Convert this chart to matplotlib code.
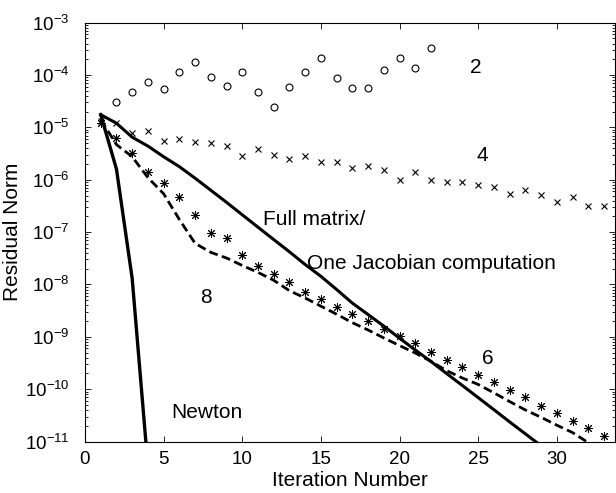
import numpy as np
import matplotlib
matplotlib.use("Agg")
import matplotlib.pyplot as plt
from matplotlib.ticker import LogLocator, FixedLocator

plt.rcParams['font.family'] = ['Liberation Sans', 'DejaVu Sans']
plt.rcParams['mathtext.fontset'] = 'custom'
plt.rcParams['mathtext.rm'] = 'Liberation Sans'
plt.rcParams['mathtext.it'] = 'Liberation Sans:italic'
plt.rcParams['mathtext.bf'] = 'Liberation Sans:bold'

# ---- data ----
iter_m2 = list(range(2, 23))
res_m2 = [3.0e-5, 4.7e-5, 7.4e-5, 5.4e-5, 1.12e-4, 1.78e-4, 9.1e-5, 6.2e-5,
          1.12e-4, 4.8e-5, 2.4e-5, 6.0e-5, 1.12e-4, 2.14e-4, 8.7e-5, 5.6e-5,
          5.75e-5, 1.26e-4, 2.09e-4, 1.35e-4, 3.24e-4]

iter_m4 = list(range(1, 34))
res_m4 = [1.32e-5, 1.20e-5, 7.8e-6, 8.7e-6, 5.6e-6, 5.9e-6, 5.25e-6, 5.0e-6,
          4.4e-6, 2.9e-6, 3.9e-6, 3.0e-6, 2.5e-6, 2.9e-6, 2.15e-6, 2.15e-6,
          1.66e-6, 1.81e-6, 1.52e-6, 9.7e-7, 1.39e-6, 1.01e-6, 9.2e-7, 9.2e-7,
          8.0e-7, 7.2e-7, 5.3e-7, 6.5e-7, 5.15e-7, 3.7e-7, 4.6e-7, 3.2e-7, 3.2e-7]

iter_m6 = list(range(1, 34))
res_m6 = [1.24e-5, 6.3e-6, 3.25e-6, 1.41e-6, 8.7e-7, 4.6e-7, 2.08e-7, 9.75e-8,
          7.7e-8, 3.6e-8, 2.25e-8, 1.56e-8, 1.09e-8, 7.2e-9, 5.25e-9, 3.7e-9,
          2.7e-9, 2.0e-9, 1.4e-9, 1.04e-9, 7.5e-10, 5.2e-10, 3.65e-10, 2.7e-10,
          1.89e-10, 1.39e-10, 9.8e-11, 7.0e-11, 4.85e-11, 3.5e-11, 2.5e-11,
          1.8e-11, 1.3e-11]

iter_m8 = list(range(1, 33))
res_m8 = [1.41e-5, 4.7e-6, 2.75e-6, 1.1e-6, 5.4e-7, 1.74e-7, 6.1e-8, 4.1e-8,
          3.2e-8, 2.3e-8, 1.7e-8, 1.2e-8, 7.6e-9, 5.5e-9, 3.85e-9, 2.7e-9,
          1.86e-9, 1.35e-9, 9.5e-10, 6.8e-10, 4.9e-10, 3.4e-10, 2.25e-10,
          1.63e-10, 1.23e-10, 8.5e-11, 5.8e-11, 4.0e-11, 2.9e-11, 2.05e-11,
          1.48e-11, 9.5e-12]

iter_full = list(range(1, 30))
res_full = [1.75e-5, 1.2e-5, 6.5e-6, 4.4e-6, 2.75e-6, 1.78e-6, 1.07e-6, 6.3e-7,
            3.7e-7, 2.14e-7, 1.24e-7, 7.2e-8, 4.2e-8, 2.4e-8, 1.43e-8, 8.0e-9,
            4.4e-9, 2.66e-9, 1.6e-9, 9.4e-10, 5.6e-10, 3.37e-10, 1.98e-10,
            1.17e-10, 6.9e-11, 4.05e-11, 2.37e-11, 1.4e-11, 8.3e-12]

iter_newton = [1, 2, 3, 4]
res_newton = [1.75e-5, 1.6e-6, 1.3e-8, 3.4e-12]

x_ticks = [0, 5, 10, 15, 20, 25, 30]
y_ticks = [1e-11, 1e-10, 1e-9, 1e-8, 1e-7, 1e-6, 1e-5, 1e-4, 1e-3]

# ---- figure ----
fig = plt.figure(figsize=(6.16, 4.93), dpi=100)
ax = fig.add_axes([85/616, 1-441.5/493, 530/616, (441.5-22.7)/493])

ax.plot(iter_newton, res_newton, color='black', lw=2.4)
ax.plot(iter_full, res_full, color='black', lw=2.2)
ax.plot(iter_m8, res_m8, color='black', lw=2.0, dashes=(3.2, 1.6))
ax.plot(iter_m6, res_m6, linestyle='none', marker=(8, 2, 0), ms=6.5,
        mec='black', mew=0.7)
ax.plot(iter_m4, res_m4, linestyle='none', marker='x', ms=4.5,
        mec='black', mew=0.8)
ax.plot(iter_m2, res_m2, linestyle='none', marker='o', ms=5, mfc='none',
        mec='black', mew=0.8)

ax.set_yscale('log')
ax.set_xlim(0, 33.7)
ax.set_ylim(1e-11, 1e-3)
ax.xaxis.set_major_locator(FixedLocator(x_ticks))
ax.yaxis.set_major_locator(FixedLocator(y_ticks))
ax.yaxis.set_minor_locator(LogLocator(base=10, subs=np.arange(2, 10), numticks=20))
ax.tick_params(axis='both', which='both', direction='in', top=True, right=True,
               colors='black', width=0.6)
ax.tick_params(axis='both', which='major', length=4, labelsize=13.5)
ax.tick_params(axis='y', which='minor', length=2.2)
ax.tick_params(axis='x', which='major', pad=7)
ax.tick_params(axis='y', which='major', pad=11)
for s in ax.spines.values():
    s.set_linewidth(0.8)

ax.set_xlabel('Iteration Number', fontsize=15)
ax.set_ylabel('Residual Norm', fontsize=15)
ax.xaxis.set_label_coords(0.5, -0.070)
ax.yaxis.set_label_coords(-0.119, 0.5)

fs = 15
ax.text(24.86, 10**-3.964, '2', fontsize=fs, ha='center', va='baseline')
ax.text(25.29, 10**-5.648, '4', fontsize=fs, ha='center', va='baseline')
ax.text(7.69, 10**-8.358, '8', fontsize=fs, ha='center', va='baseline')
ax.text(25.6, 10**-9.52, '6', fontsize=fs, ha='center', va='baseline')
ax.text(11.33, 10**-6.867, 'Full matrix/', fontsize=fs, ha='left', va='baseline')
ax.text(14.14, 10**-7.711, 'One Jacobian computation', fontsize=fs, ha='left', va='baseline')
ax.text(5.47, 10**-10.549, 'Newton', fontsize=fs, ha='left', va='baseline')

fig.savefig('out.png', dpi=100)
